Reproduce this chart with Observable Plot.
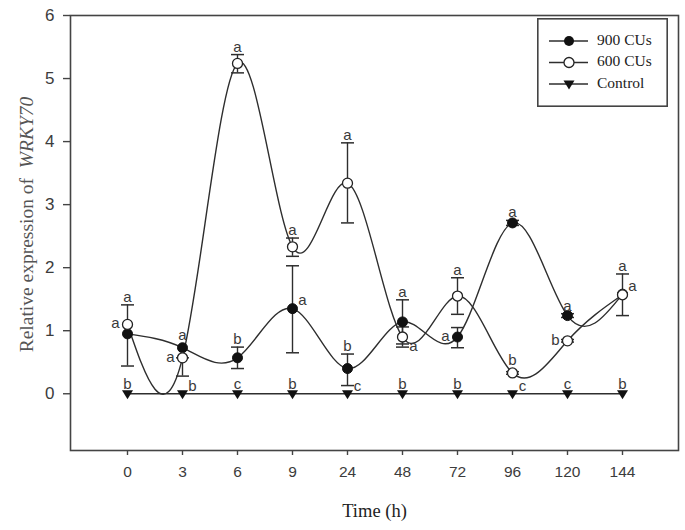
<!DOCTYPE html>
<html><head><meta charset="utf-8">
<script src="https://cdn.jsdelivr.net/npm/d3@7"></script>
<script src="https://cdn.jsdelivr.net/npm/@observablehq/plot@0.6"></script>
<style>
body{margin:0;background:#fff;}
#wrap{position:relative;width:685px;height:530px;}
#legend{position:absolute;left:537px;top:18px;}
</style></head><body><div id="wrap"></div>
<script>
// ---- data ----
const times = ["0","3","6","9","24","48","72","96","120","144"];
const yTicks = [0,1,2,3,4,5,6];
const seriesNames = ["900 CUs","600 CUs","Control"];

const cu900   = [0.95,0.73,0.57,1.35,0.40,1.14,0.90,2.71,1.24,1.58];
const cu900Lo = [0.44,0.73,0.40,0.65,0.13,0.79,0.73,2.67,1.21,1.58];
const cu900Hi = [1.41,0.73,0.74,2.03,0.63,1.49,1.05,2.75,1.27,1.58];
const cu900Letters = ["a","a","b","a","b","a","a","a","a","a"];
const cu900Side    = ["top","top","top","right","top","top","left","top","top","right"];

const cu600   = [1.10,0.57,5.24,2.33,3.34,0.90,1.55,0.33,0.84,1.57];
const cu600Lo = [1.10,0.28,5.09,2.18,2.71,0.74,1.26,0.31,0.82,1.24];
const cu600Hi = [1.10,0.57,5.38,2.47,3.98,1.06,1.84,0.35,0.86,1.90];
const cu600Letters = ["a","a","a","a","a","a","a","b","b","a"];
const cu600Side    = ["left","left","top","top","top","lowright","top","top","left","top"];

const control = [0,0,0,0,0,0,0,0,0,0];
const controlLetters = ["b","b","c","b","c","b","b","c","c","b"];
const controlSide    = ["top","right","top","top","right","top","top","right","top","top"];

// ---- build tables ----
const ink = "#2e2e2e";
function build(name, v, lo, hi, letters, sides) {
  return times.map((t, i) => ({series: name, time: t, value: v[i], lo: lo[i], hi: hi[i], letter: letters[i], side: sides[i]}));
}
const d900 = build(seriesNames[0], cu900, cu900Lo, cu900Hi, cu900Letters, cu900Side);
const d600 = build(seriesNames[1], cu600, cu600Lo, cu600Hi, cu600Letters, cu600Side);
const dCtl = build(seriesNames[2], control, control, control, controlLetters, controlSide);
const errRows = [...d900, ...d600].filter(d => d.hi - d.lo > 0.02);
const capRows = errRows.flatMap(d => [{time: d.time, y: d.lo}, {time: d.time, y: d.hi}]);

const letterRows = [...d900, ...d600, ...dCtl].map(d => {
  let key = d.side, y = d.value;
  if (d.side === "top") {
    if (d.series === "Control") key = "toptri";
    else if (d.hi - d.value > 0.02) { key = "topbar"; y = d.hi; }
    else key = "topmark";
  }
  return {time: d.time, y, key, letter: d.letter};
});
const letterStyle = {
  topbar:   {dy: -3, lineAnchor: "bottom"},
  topmark:  {dy: -8, lineAnchor: "bottom"},
  toptri:   {dy: -5, lineAnchor: "bottom"},
  left:     {dx: -12, dy: -1},
  right:    {dx: 10, dy: -8},
  lowright: {dx: 11, dy: 9}
};

// ---- symbols ----
const capSymbol = {draw(ctx) { ctx.moveTo(-6.5, 0); ctx.lineTo(6.5, 0); }};
const triDown = {draw(ctx) { ctx.moveTo(-5.5, -3.5); ctx.lineTo(5.5, -3.5); ctx.lineTo(0, 5.5); ctx.closePath(); }};

const tickFont = "'Liberation Sans',Arial,sans-serif";

const plot = Plot.plot({
  width: 685,
  height: 530,
  marginLeft: 70,
  marginRight: 7,
  marginTop: 15,
  marginBottom: 80,
  style: {fontFamily: tickFont, color: "#3c3c3c", background: "#fff"},
  x: {type: "point", domain: times, padding: 1},
  y: {domain: [-0.9, 6]},
  marks: [
    Plot.line(d900, {x: "time", y: "value", curve: "natural", stroke: ink, strokeWidth: 1.4}),
    Plot.line(d600, {x: "time", y: "value", curve: "natural", stroke: ink, strokeWidth: 1.4}),
    Plot.line(dCtl, {x: "time", y: "value", stroke: ink, strokeWidth: 1.6}),
    Plot.ruleX(errRows, {x: "time", y1: "lo", y2: "hi", stroke: ink, strokeWidth: 1.4}),
    Plot.dot(capRows, {x: "time", y: "y", symbol: capSymbol, stroke: ink, strokeWidth: 1.5, fill: "none"}),
    Plot.dot(dCtl, {x: "time", y: "value", symbol: triDown, fill: "#111", stroke: "none"}),
    Plot.dot(d900, {x: "time", y: "value", r: 5, fill: "#111", stroke: "#111", strokeWidth: 1}),
    Plot.dot(d600, {x: "time", y: "value", r: 5, fill: "#fff", stroke: "#222", strokeWidth: 1.3}),
    ...Object.entries(letterStyle).map(([k, s]) =>
      Plot.text(letterRows.filter(d => d.key === k), {x: "time", y: "y", text: "letter", fontSize: 15, fill: "#3a3a3a", ...s})
    ),
    Plot.frame({stroke: "#444", strokeWidth: 1.6}),
    Plot.axisY({ticks: yTicks, tickFormat: d3.format("d"), tickSize: 7, tickPadding: 9, fontSize: 17, label: null, stroke: "#444", strokeWidth: 1.4}),
    Plot.axisX({tickSize: 5, tickPadding: 10, fontSize: 15.5, label: null, stroke: "#444", strokeWidth: 1.4})
  ]
});

const svg = d3.select(plot);
const ys = plot.scale("y");
const xs = plot.scale("x");
// y title
const yt = svg.append("text")
  .attr("transform", `translate(29,${(ys.apply(6) + ys.apply(-0.9)) / 2 - 8}) rotate(-90)`)
  .attr("text-anchor", "middle").attr("dominant-baseline", "middle")
  .attr("font-family", "'Liberation Serif','Times New Roman',serif")
  .attr("font-size", 19.5).attr("fill", "#555");
yt.append("tspan").text("Relative expression of  ");
yt.append("tspan").attr("font-style", "italic").text("WRKY70");
// x title
svg.append("text")
  .attr("x", (xs.apply(times[0]) + xs.apply(times[times.length - 1])) / 2)
  .attr("y", 513)
  .attr("text-anchor", "middle").attr("dominant-baseline", "middle")
  .attr("font-family", "'Liberation Serif','Times New Roman',serif")
  .attr("font-size", 18.5).attr("fill", "#222")
  .text("Time (h)");

const wrap = document.getElementById("wrap");
wrap.appendChild(plot);

// ---- legend ----
const leg = d3.select(wrap).append("svg").attr("id", "legend").attr("width", 131).attr("height", 89);
leg.append("rect").attr("x", 0.8).attr("y", 0.8).attr("width", 129.4).attr("height", 87.4)
  .attr("fill", "#fff").attr("stroke", "#444").attr("stroke-width", 1.6);
const markerDraw = [
  g => g.append("circle").attr("r", 5).attr("fill", "#111"),
  g => g.append("circle").attr("r", 5).attr("fill", "#fff").attr("stroke", "#222").attr("stroke-width", 1.3),
  g => g.append("path").attr("d", "M-5.5,-3.5L5.5,-3.5L0,5.5Z").attr("fill", "#111")
];
seriesNames.forEach((name, i) => {
  const g = leg.append("g").attr("transform", `translate(0,${23 + i * 21.5})`);
  g.append("line").attr("x1", 12).attr("x2", 51).attr("stroke", ink).attr("stroke-width", 1.5);
  const m = g.append("g").attr("transform", "translate(32,0)");
  markerDraw[i](m);
  g.append("text").attr("x", 60).attr("dominant-baseline", "middle")
    .attr("font-family", "'Liberation Serif','Times New Roman',serif")
    .attr("font-size", 15.5).attr("fill", "#222").text(name);
});
</script></body></html>
